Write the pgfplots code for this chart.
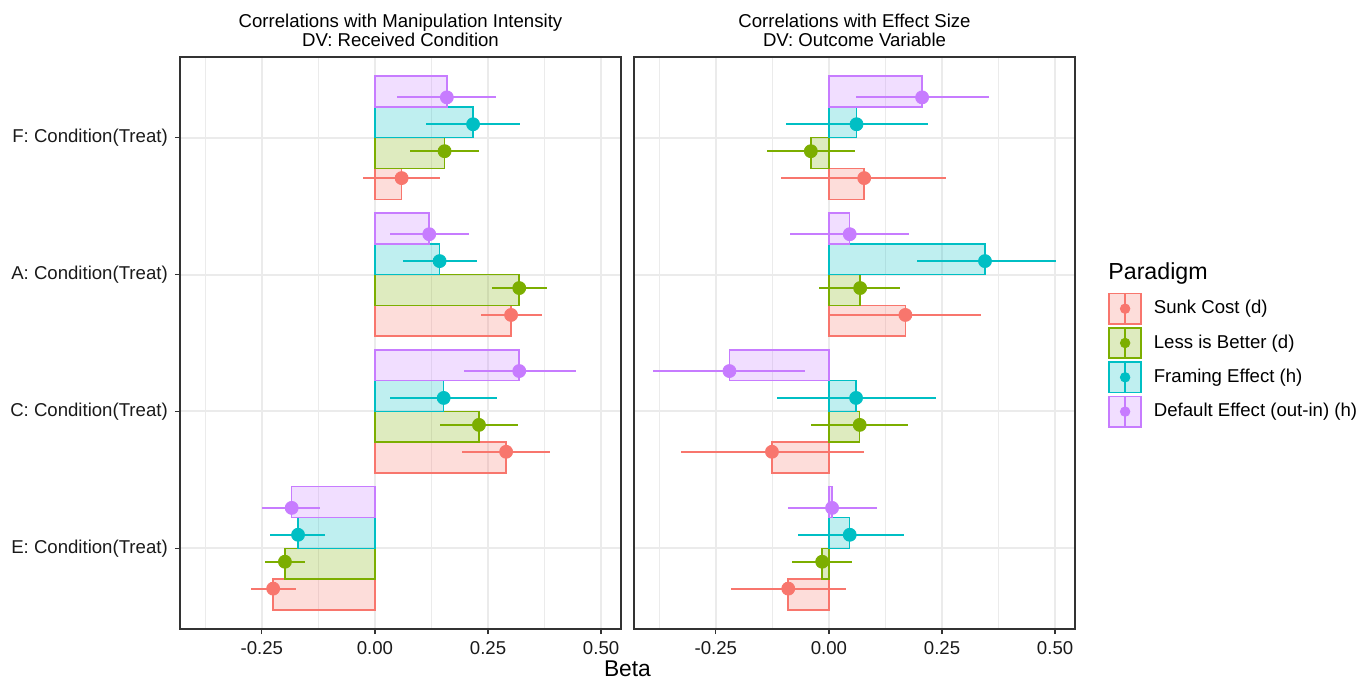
\documentclass[border=0pt]{standalone}
\usepackage{pgfplots}
\pgfplotsset{compat=1.18}
\usepackage{pgfplotstable}
\usepgfplotslibrary{groupplots}
\usepackage{fontspec}
\setmainfont{Liberation Sans}

\definecolor{csunk}{HTML}{F8766D}
\definecolor{cless}{HTML}{7CAE00}
\definecolor{cfram}{HTML}{00BFC4}
\definecolor{cdef}{HTML}{C77CFF}
\definecolor{gridc}{HTML}{EBEBEB}
\definecolor{frame}{HTML}{333333}
\definecolor{tickc}{HTML}{1A1A1A}

% c: 1=E, 2=C, 3=A, 4=F ; estimate, lower, upper per paradigm
\pgfplotstableread{
c sc sclo schi lb lblo lbhi fe felo fehi de delo dehi
1 -0.225 -0.275 -0.175 -0.199 -0.243 -0.154 -0.170 -0.231 -0.110 -0.184 -0.249 -0.121
2 0.290 0.193 0.387 0.230 0.143 0.317 0.152 0.034 0.269 0.319 0.196 0.444
3 0.301 0.234 0.369 0.319 0.259 0.380 0.143 0.061 0.225 0.120 0.034 0.208
4 0.059 -0.027 0.144 0.154 0.077 0.231 0.217 0.113 0.321 0.159 0.049 0.268
}\intensity
\pgfplotstableread{
c sc sclo schi lb lblo lbhi fe felo fehi de delo dehi
1 -0.090 -0.217 0.037 -0.015 -0.081 0.052 0.046 -0.068 0.165 0.007 -0.091 0.106
2 -0.126 -0.328 0.077 0.068 -0.039 0.175 0.060 -0.115 0.237 -0.220 -0.388 -0.052
3 0.169 0.000 0.337 0.069 -0.021 0.157 0.345 0.194 0.501 0.046 -0.086 0.178
4 0.078 -0.105 0.259 -0.040 -0.136 0.057 0.061 -0.096 0.219 0.206 0.060 0.354
}\effect

\pgfplotsset{
  barsty/.style={xbar, forget plot, bar width=0.225, bar shift=#1, line width=0.75pt, fill opacity=0.25, draw opacity=1},
  ptsty/.style={forget plot, only marks, mark=*, mark size=3.25pt, color=#1,
    error bars/.cd, x dir=both, x explicit, error mark=none,
    error bar style={line width=1pt, color=#1}},
  pkey/.style={legend image code/.code={
    \draw[draw=#1, fill=#1, fill opacity=0.25, line width=0.75pt] (0pt,-7.6pt) rectangle (16pt,7.6pt);
    \draw[#1, line width=0.75pt] (8pt,-7.6pt) -- (8pt,7.6pt);
    \fill[#1] (8pt,0pt) circle (2.4pt);}},
}

% bars dodged at width 0.9, points at a narrower dodge
\newcommand\panel[1]{%
  \addplot[barsty=-0.3375, draw=csunk, fill=csunk] table[x=sc, y=c] {#1};
  \addplot[barsty=-0.1125, draw=cless, fill=cless] table[x=lb, y=c] {#1};
  \addplot[barsty=0.1125, draw=cfram, fill=cfram] table[x=fe, y=c] {#1};
  \addplot[barsty=0.3375, draw=cdef, fill=cdef] table[x=de, y=c] {#1};
  \addplot[ptsty=csunk] table[x=sc, y expr=\thisrow{c}-0.295,
    x error plus expr=\thisrow{schi}-\thisrow{sc}, x error minus expr=\thisrow{sc}-\thisrow{sclo}] {#1};
  \addplot[ptsty=cless] table[x=lb, y expr=\thisrow{c}-0.0985,
    x error plus expr=\thisrow{lbhi}-\thisrow{lb}, x error minus expr=\thisrow{lb}-\thisrow{lblo}] {#1};
  \addplot[ptsty=cfram] table[x=fe, y expr=\thisrow{c}+0.0985,
    x error plus expr=\thisrow{fehi}-\thisrow{fe}, x error minus expr=\thisrow{fe}-\thisrow{felo}] {#1};
  \addplot[ptsty=cdef] table[x=de, y expr=\thisrow{c}+0.295,
    x error plus expr=\thisrow{dehi}-\thisrow{de}, x error minus expr=\thisrow{de}-\thisrow{delo}] {#1};
}

\begin{document}
\begin{tikzpicture}
\begin{groupplot}[
  group style={group size=2 by 1, horizontal sep=6.5pt},
  width=220.5pt, height=286pt, scale only axis,
  xmin=-0.431, xmax=0.544, ymin=0.41, ymax=4.59,
  xtick={-0.25,0,0.25,0.5}, xticklabels={-0.25,0.00,0.25,0.50},
  minor xtick={-0.375,-0.125,0.125,0.375},
  ytick={1,2,3,4},
  xmajorgrids, xminorgrids, ymajorgrids,
  major grid style={gridc, line width=1pt},
  minor grid style={gridc, line width=0.5pt},
  axis line style={frame, line width=0.6pt},
  tick align=outside, major tick length=2.6pt, minor tick length=0pt,
  tick style={frame, line width=0.6pt},
  xtick pos=bottom, ytick pos=left,
  ticklabel style={font=\fontsize{9.3}{11}\selectfont, text=tickc},
  title style={align=center, font=\fontsize{9.3}{9.6}\selectfont, at={(0.5,1)}, anchor=south, inner sep=0pt, yshift=-1pt},
]
\nextgroupplot[
  title={Correlations with Manipulation Intensity\\DV: Received Condition},
  yticklabels={E: Condition(Treat), C: Condition(Treat), A: Condition(Treat), F: Condition(Treat)},
  xlabel={Beta},
  xlabel style={at={(rel axis cs:1.0147,0)}, anchor=north, inner sep=0pt, yshift=-15.5pt, font=\fontsize{11.4}{13}\selectfont},
]
\panel{\intensity}
\nextgroupplot[
  title={Correlations with Effect Size\\DV: Outcome Variable},
  yticklabels={}, ytick style={draw=none},
  legend style={draw=none, fill=none, inner sep=0pt, at={(1.0748,0.47)}, anchor=west,
    row sep=1.2pt, font=\fontsize{9.3}{11}\selectfont, cells={anchor=west},
    nodes={inner xsep=6pt}, name=mylegend},
  legend cell align=left,
]
\addlegendimage{pkey=csunk}\addlegendentry{Sunk Cost (d)}
\addlegendimage{pkey=cless}\addlegendentry{Less is Better (d)}
\addlegendimage{pkey=cfram}\addlegendentry{Framing Effect (h)}
\addlegendimage{pkey=cdef}\addlegendentry{Default Effect (out-in) (h)}
\panel{\effect}
\end{groupplot}
\node[anchor=south west, inner sep=0pt, font=\fontsize{11.6}{13}\selectfont] at ([yshift=4pt]mylegend.north west) {Paradigm};
\path (group c1r1.south west) ++(-90pt,-26pt) rectangle ++(685.5pt,340.5pt);
\end{tikzpicture}
\end{document}
